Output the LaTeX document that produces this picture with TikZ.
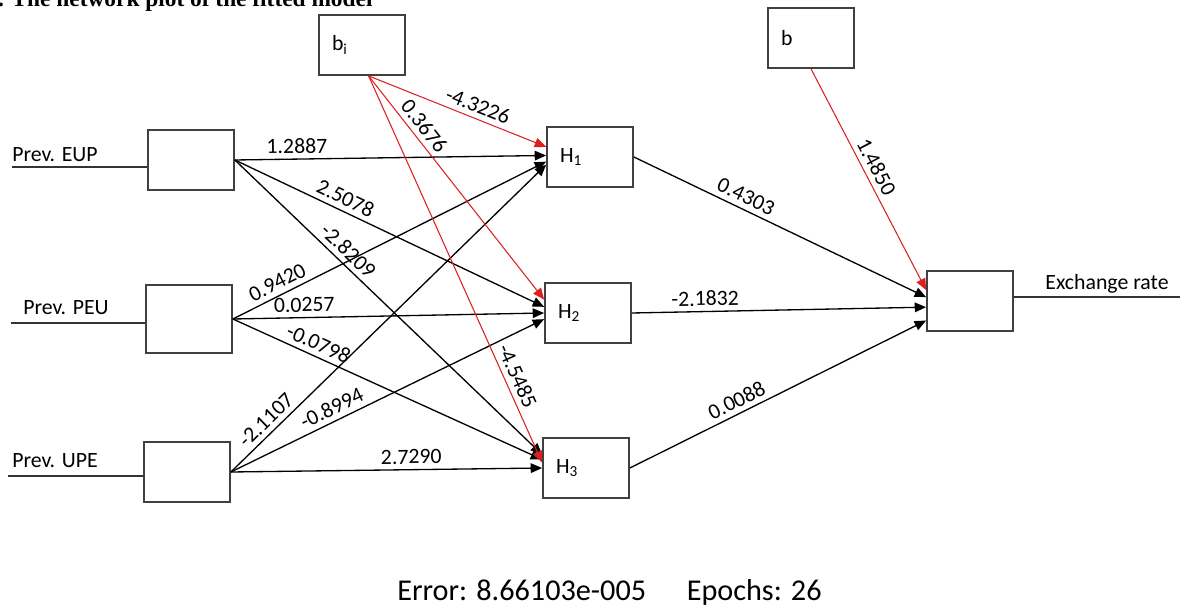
\documentclass[tikz,border=0pt]{standalone}
\usepackage{fontspec}
\setmainfont{Carlito}
\newfontfamily\titlefont{Liberation Serif}
\usetikzlibrary{arrows.meta}
\definecolor{biasred}{RGB}{218,32,32}
\newcommand\wlab{\fontsize{12.4}{14}\selectfont}
\newcommand\foot{\fontsize{17.2}{20}\selectfont}
\tikzset{
	unit/.style={draw=black!75,line width=1pt,minimum height=1.2cm,text width=1.2cm,inner xsep=.26cm,align=left,font=\wlab},
	wt/.style={-{Triangle[length=6.5pt,width=5.5pt]},line width=.75pt},
	bias/.style={wt,biasred,line width=.6pt},
	num/.style={sloped,above,inner xsep=1pt,inner ysep=2.8pt,text=black,font=\wlab},
	wire/.style={line width=.8pt,black!80}
}
\begin{document}
\begin{tikzpicture}[x=.02cm,y=-.02cm]
	\useasboundingbox (0,0) rectangle (1182,614);
	\clip (0,0) rectangle (1182,614);
	\node[anchor=base west,inner sep=0,font=\titlefont\bfseries\fontsize{13.3}{15}\selectfont] (ttl) at (-14,7) {1. The network plot of the fitted model};
	\node[unit] (in1) at (191,160) {};
	\node[unit,minimum height=1.36cm] (in2) at (189,319) {};
	\node[unit] (in3) at (187,472) {};
	\node[unit] (bi) at (362,45) {b\textsubscript{i}};
	\node[unit] (h1) at (590,157) {H\textsubscript{1}};
	\node[unit] (h2) at (588,313) {H\textsubscript{2}};
	\node[unit] (h3) at (586,468) {H\textsubscript{3}};
	\node[unit] (b) at (811,38) {b};
	\node[unit] (out) at (970,301) {};
	\coordinate (x1) at (12,167);
	\coordinate (x2) at (11,323);
	\coordinate (x3) at (8,476);
	\coordinate (y) at (1180,297);
	\draw[wire] (x1) -- (x1 -| in1.west) (x2) -- (x2 -| in2.west) (x3) -- (x3 -| in3.west) (y -| out.east) -- (y);
	\node[anchor=base west,inner sep=0,font=\wlab] (l1) at (12,162) {Prev. EUP};
	\node[anchor=base west,inner sep=0,font=\wlab] (l2) at (23,315) {Prev. PEU};
	\node[anchor=base west,inner sep=0,font=\wlab] (l3) at (12,467) {Prev. UPE};
	\node[anchor=base west,inner sep=0,font=\wlab] (ly) at (1045,290) {Exchange rate};
	\draw[wt] (in1.east) -- (h1.178) node[num,pos=.2]{1.2887};
	\draw[wt] (in1.east) -- (h2.172) node[num,pos=.34]{2.5078};
	\draw[wt] (in1.east) -- (h3.163) node[num,pos=.34]{-2.8209};
	\draw[wt] (in2.east) -- (h1.186) node[num,pos=.16]{0.9420};
	\draw[wt] (in2.east) -- (h2.west) node[num,pos=.23]{0.0257};
	\draw[wt] (in2.east) -- (h3.169) node[num,pos=.26]{-0.0798};
	\draw[wt] (in3.east) -- (h1.190) node[num,pos=.14]{-2.1107};
	\draw[wt] (in3.east) -- (h2.188) node[num,pos=.34]{-0.8994};
	\draw[wt] (in3.east) -- (h3.west) node[num,pos=.58]{2.7290};
	\draw[bias] (bi.-78) -- (h1.167) node[num,pos=.59]{-4.3226};
	\draw[bias] (bi.-78) -- (h2.163) node[num,pos=.26]{0.3676};
	\draw[bias] (bi.-78) -- (h3.173) node[num,pos=.79]{-4.5485};
	\draw[wt] (h1.east) -- (out.175) node[num,pos=.365]{0.4303};
	\draw[wt] (h2.east) -- (out.188) node[num,pos=.25]{-2.1832};
	\draw[wt] (h3.east) -- (out.204) node[num,pos=.38]{0.0088};
	\draw[bias] (b.south) -- (out.166) node[num,pos=.47]{1.4850};
	\node[anchor=base west,inner sep=0,font=\foot] (err) at (397,600) {Error: 8.66103e-005};
	\node[anchor=base east,inner sep=0,font=\foot] (ep) at (822,600) {Epochs: 26};
\end{tikzpicture}
\end{document}
